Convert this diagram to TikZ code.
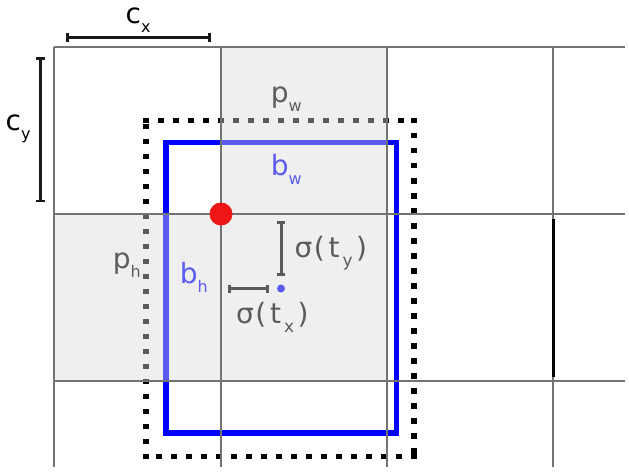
\documentclass[tikz,border=0pt]{standalone}
\usepackage{fontspec}
\setmainfont{DejaVu Sans}
\usetikzlibrary{arrows.meta}
\newcommand\lblsub[2]{#1\raisebox{-9.5pt}{\fontsize{16}{16}\selectfont #2}}
\newcommand\sigsub[2]{σ\hspace{1.5pt}(\hspace{3.8pt}#1\hspace{3pt}\raisebox{-9.5pt}{\fontsize{17}{17}\selectfont #2}\hspace{3.5pt})}
\begin{document}
\begin{tikzpicture}[x=1pt,y=-1pt,
  gridline/.style={draw=black!55, line width=1.3pt},
  pdots/.style={draw=black, line width=5.5pt, line cap=rect, dash pattern=on 0.01pt off 15pt},
  bluebox/.style={draw=blue, line width=5.5pt, line join=miter},
  lab/.style={anchor=base west, inner sep=0pt, font=\fontsize{28}{28}\selectfont},
  sigbar/.style={draw=black, line width=3pt, {Bar[width=8pt]}-{Bar[width=8pt]}},
  cbar/.style={draw=black!90, line width=2.5pt, {Bar[width=9pt]}-{Bar[width=9pt]}},
  overlay/.style={fill=black!15, fill opacity=0.42, draw=none}
]
\useasboundingbox (0,0) rectangle (629,472);
\fill[white] (0,0) rectangle (629,472);

% prior box corners
\coordinate (pTL) at (146,120.7);
\coordinate (pTR) at (414,120.7);
\coordinate (pBR) at (414,456.5);
\coordinate (pBL) at (146,456.5);
\draw[pdots] (pTL) -- (pTR);
\draw[pdots] (pTR) -- (pBR);
\draw[pdots] (pBR) -- (pBL);
\draw[pdots] (pBL) -- (pTL);

% predicted box
\coordinate (bTL) at (166,142.5);
\coordinate (bBR) at (396.5,433);
\draw[bluebox] (bTL) rectangle (bBR);

% labels
\node[lab, text=black] (pw) at (270.6,102) {\lblsub{p}{w}};
\node[lab, text=black] (ph) at (112.6,268) {\lblsub{p}{h}};
\node[lab, text=blue] (bw) at (270.6,175) {\lblsub{b}{w}};
\node[lab, text=blue] (bh) at (179.6,283) {\lblsub{b}{h}};
\node[lab, text=black] (sy) at (294.5,257) {\sigsub{t}{y}};
\node[lab, text=black] (sx) at (236,323) {\sigsub{t}{x}};

% centre offsets
\coordinate (tyA) at (281,221);
\coordinate (tyB) at (281,276);
\coordinate (txA) at (228,288.5);
\coordinate (txB) at (269,288.5);
\draw[sigbar] (tyA) -- (tyB);
\draw[sigbar] (txA) -- (txB);
\node[circle, fill=blue, inner sep=0pt, minimum size=8pt] (ctr) at (281,288.5) {};

% shaded cells (overlay)
\path[overlay] (221,47) -- (387,47) -- (387,381) -- (54,381) -- (54,214) -- (221,214) -- cycle;

% grid
\foreach \y in {47,214,381} \draw[gridline] (54,\y) -- (625,\y);
\foreach \x in {54,221,387,553} \draw[gridline] (\x,47) -- (\x,467);
\coordinate (tkA) at (553,219);
\coordinate (tkB) at (553,377);
\draw[black, line width=3pt] (tkA) -- (tkB);

% cell corner
\node[circle, fill={rgb,255:red,238;green,22;blue,22}, inner sep=0pt, minimum size=23pt] (cell) at (221,214) {};

% cell size bars
\coordinate (cxA) at (66,37.5);
\coordinate (cxB) at (210.5,37.5);
\draw[cbar] (cxA) -- (cxB);
\coordinate (cyA) at (40.7,57);
\coordinate (cyB) at (40.7,202);
\draw[cbar] (cyA) -- (cyB);
\node[lab] (cx) at (125.5,23) {\lblsub{c}{x}};
\node[lab] (cy) at (5.5,130) {\lblsub{c}{y}};
\end{tikzpicture}
\end{document}
